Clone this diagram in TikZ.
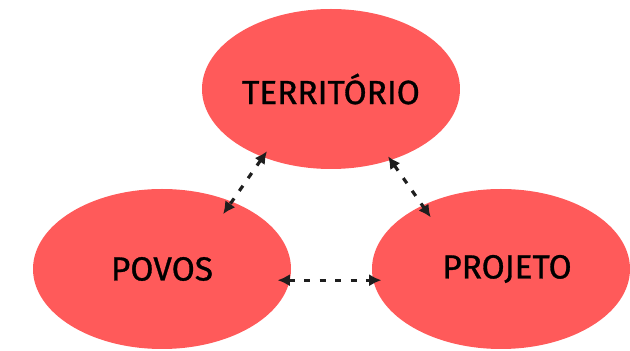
\documentclass[tikz,border=0pt]{standalone}
\usepackage{fontspec}
\setmainfont{Fira Sans}
\newfontfamily\blobfont{Fira Sans}[FakeBold=0.9]
\usetikzlibrary{shapes.geometric,arrows.meta}
\definecolor{blobred}{RGB}{255,90,90}
\definecolor{inkgray}{RGB}{30,30,30}

\begin{document}
\begin{tikzpicture}[
		blob/.style = {ellipse, fill = blobred, minimum width = 5.16cm, minimum height = 3.2cm, inner sep = 0pt, font = \blobfont\fontsize{19}{22}\selectfont, text = black},
		link/.style = {draw = inkgray, line width = 1.8pt, dash pattern = on 3.6pt off 5.2pt, {Latex[length=7pt,width=7pt]}-{Latex[length=7pt,width=7pt]}}
	]
		\useasboundingbox (0,0) rectangle (12.6,-7.02);
		\node[blob] (T) at (6.62,-1.78) {TERRITÓRIO};
		\node[blob] (P) at (3.24,-5.38) {POVOS};
		\node[blob] (R) at (10.02,-5.38) {\hspace*{0.24cm}PROJETO};
		
		\path[link, shorten < = -4.15pt, shorten > = -8.8pt] (T.225) -- (P.44);
		\path[link, shorten < = -2.7pt, shorten > = -8.4pt] (T.310) -- (R.141);
		\path[link, shorten < = -7.1pt, shorten > = -4.8pt] (P.355) -- (R.185);
	\end{tikzpicture}
\end{document}
